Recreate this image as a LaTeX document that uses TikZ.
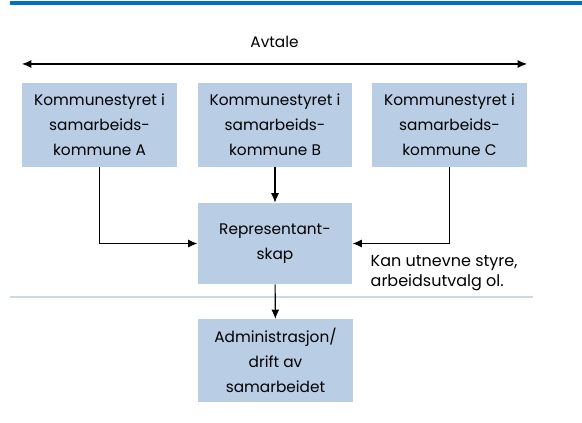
\documentclass[tikz,border=0pt]{standalone}
\usepackage{fontspec}
\setmainfont{Poppins}
\usepackage{xcolor}
\usepackage{tikz}
\usetikzlibrary{shapes,arrows.meta,positioning}

\definecolor{boxblue}{HTML}{B9CDE5}
\definecolor{topblue}{HTML}{0070C0}
\definecolor{sepline}{HTML}{CCD8EC}

\begin{document}
\begin{tikzpicture}[
    x=0.75pt, y=-0.75pt,
    >={Latex[length=7pt,width=6pt]},
    kommune/.style={fill=boxblue, minimum width=116pt, minimum height=63pt, align=center, font=\fontsize{11.5}{18.75}\selectfont},
    organ/.style={fill=boxblue, minimum width=116pt, minimum height=61pt, align=center, font=\fontsize{11.5}{18.75}\selectfont},
    note/.style={align=left, font=\fontsize{12}{15.5}\selectfont},
    edge/.style={->, line width=0.8pt}
]
    \useasboundingbox (0,0) rectangle (582,423);

    % Top rule and separator
    \fill[topblue] (10,1) rectangle (582,5);
    \draw[sepline, line width=1.2pt] (10,297) -- (533,297);

    % Agreement
    \coordinate (avl) at (22,64);
    \coordinate (avr) at (527,64);
    \draw[<->, line width=0.8pt] (avl) -- (avr);
    \node[font=\fontsize{11.5}{14}\selectfont] (avtale) at (274.5,42) {Avtale};

    % Municipal councils
    \node[kommune] (ka) at (99.5,125) {Kommunestyret i\\samarbeids-\\kommune A};
    \node[kommune] (kb) at (275,125) {Kommunestyret i\\samarbeids-\\kommune B};
    \node[kommune] (kc) at (449.5,125) {Kommunestyret i\\samarbeids-\\kommune C};

    % Council of representatives and administration
    \node[organ] (rep) at (275,243.5) {Representant-\\skap};
    \node[organ, minimum height=62pt] (adm) at (275.5,360.5) {Administrasjon/\\drift av\\samarbeidet};

    \node[note, anchor=west] (kan) at (366,273) {Kan utnevne styre,\\arbeidsutvalg ol.};

    % Connections
    \draw[edge] (ka.south) |- (rep.west);
    \draw[edge] (kc.south) |- (rep.east);
    \draw[edge] (kb) -- (rep);
    \draw[edge] (rep) -- (adm);

\end{tikzpicture}
\end{document}
